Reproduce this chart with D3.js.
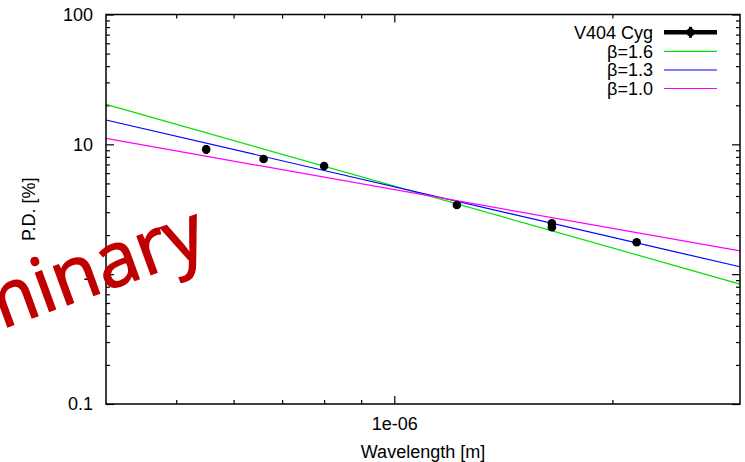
<!DOCTYPE html>
<html>
<head>
<meta charset="utf-8">
<script src="https://cdn.jsdelivr.net/npm/d3@7"></script>
<style>
  body { margin: 0; background: #fff; }
  svg { display: block; font-family: "Liberation Sans", Arial, sans-serif; }
  .axis text { font-size: 18px; fill: #000; font-family: "Liberation Sans", Arial, sans-serif; }
  .axis line { stroke: #000; stroke-width: 1.2px; }
  .axis path { display: none; }
</style>
</head>
<body>
<svg id="viz" width="745" height="462"></svg>
<script>
// V404 Cyg polarization degree per band (wavelength in m, P.D. in %)
var bands = ["V", "R", "I", "J", "H", "H", "Ks"];
var wavelengths = [0.55e-6, 0.66e-6, 0.80e-6, 1.22e-6, 1.65e-6, 1.65e-6, 2.16e-6];
var pd = [9.15, 7.70, 6.80, 3.41, 2.46, 2.30, 1.76];
var pdErr = [0.7, 0.3, 0.25, 0.12, 0.12, 0.12, 0.07];

// model lines, values read at the two plot edges
var modelNames = ["\u03b2=1.6", "\u03b2=1.3", "\u03b2=1.0"];
var modelColors = ["#00e000", "#0000ff", "#ff00ff"];
var modelEdgeX = [4e-7, 3e-6];
var modelEdgeY = [[20.3, 0.839], [15.4, 1.14], [11.1, 1.51]];

var yMajor = [0.1, 1, 10, 100];
var yMinor = [0.2, 0.3, 0.4, 0.5, 0.6, 0.7, 0.8, 0.9,
              2, 3, 4, 5, 6, 7, 8, 9,
              20, 30, 40, 50, 60, 70, 80, 90];
var xMajor = [1e-6];
var xMinor = [5e-7, 6e-7, 7e-7, 8e-7, 9e-7, 2e-6];

// plot box (window.top is reserved, so no "top" here)
var pLeft = 106, pRight = 740, pTop = 14.5, pBottom = 404;

var svg = d3.select("#viz");

var x = d3.scaleLog().domain([4e-7, 3e-6]).range([pLeft, pRight]);
var y = d3.scaleLog().domain([0.1, 100]).range([pBottom, pTop]);

// axes, ticks point inwards like gnuplot
svg.append("g").attr("class", "axis")
    .attr("transform", "translate(" + pLeft + ",0)")
    .call(d3.axisLeft(y).tickValues(yMajor).tickSize(-8).tickPadding(13)
        .tickFormat(d => d >= 1 ? d3.format("d")(d) : d + ""));
svg.append("g").attr("class", "axis")
    .attr("transform", "translate(" + pLeft + ",0)")
    .call(d3.axisLeft(y).tickValues(yMinor).tickSize(-4).tickFormat(""));
svg.append("g").attr("class", "axis")
    .attr("transform", "translate(" + pRight + ",0)")
    .call(d3.axisRight(y).tickValues(yMajor).tickSize(-8).tickFormat(""));
svg.append("g").attr("class", "axis")
    .attr("transform", "translate(" + pRight + ",0)")
    .call(d3.axisRight(y).tickValues(yMinor).tickSize(-4).tickFormat(""));

svg.append("g").attr("class", "axis")
    .attr("transform", "translate(0," + pBottom + ")")
    .call(d3.axisBottom(x).tickValues(xMajor).tickSize(-8).tickPadding(13)
        .tickFormat(d => "1e-06"));
svg.append("g").attr("class", "axis")
    .attr("transform", "translate(0," + pBottom + ")")
    .call(d3.axisBottom(x).tickValues(xMinor).tickSize(-4).tickFormat(""));
svg.append("g").attr("class", "axis")
    .attr("transform", "translate(0," + pTop + ")")
    .call(d3.axisTop(x).tickValues(xMajor).tickSize(-8).tickFormat(""));
svg.append("g").attr("class", "axis")
    .attr("transform", "translate(0," + pTop + ")")
    .call(d3.axisTop(x).tickValues(xMinor).tickSize(-4).tickFormat(""));

// model lines
var line = d3.line().x(d => x(d[0])).y(d => y(d[1]));
modelEdgeY.forEach(function(v, i) {
    svg.append("path")
        .attr("d", line(modelEdgeX.map((xx, j) => [xx, v[j]])))
        .attr("fill", "none")
        .attr("stroke", modelColors[i])
        .attr("stroke-width", 1.2);
});

// data with error bars
var pts = wavelengths.map((w, i) => ({w: w, p: pd[i], e: pdErr[i]}));
var dots = svg.append("g");
dots.selectAll("line.err").data(pts).enter().append("line")
    .attr("x1", d => x(d.w)).attr("x2", d => x(d.w))
    .attr("y1", d => y(d.p - d.e)).attr("y2", d => y(d.p + d.e))
    .attr("stroke", "#000").attr("stroke-width", 3.5);
dots.selectAll("circle").data(pts).enter().append("circle")
    .attr("cx", d => x(d.w)).attr("cy", d => y(d.p))
    .attr("r", 4.3).attr("fill", "#000");

// frame
svg.append("rect")
    .attr("x", pLeft).attr("y", pTop)
    .attr("width", pRight - pLeft).attr("height", pBottom - pTop)
    .attr("fill", "none").attr("stroke", "#000").attr("stroke-width", 1.5);

// legend
var legendNames = ["V404 Cyg"].concat(modelNames);
var legendY = [32.3, 51.3, 70, 88.5];
var lg = svg.append("g").attr("font-size", "18px");
legendNames.forEach(function(name, i) {
    lg.append("text").attr("x", 653).attr("y", legendY[i]).attr("dy", "0.36em")
        .attr("text-anchor", "end").text(name);
    lg.append("line")
        .attr("x1", 664).attr("x2", 717)
        .attr("y1", legendY[i]).attr("y2", legendY[i])
        .attr("stroke", i == 0 ? "#000" : modelColors[i - 1])
        .attr("stroke-width", i == 0 ? 4.5 : 1.2);
});
lg.append("circle").attr("cx", 690.5).attr("cy", legendY[0]).attr("r", 4).attr("fill", "#000");
lg.append("line").attr("x1", 690.5).attr("x2", 690.5)
    .attr("y1", legendY[0] - 5.5).attr("y2", legendY[0] + 5.5)
    .attr("stroke", "#000").attr("stroke-width", 3);

// axis titles
svg.append("text")
    .attr("x", (pLeft + pRight) / 2).attr("y", 458)
    .attr("text-anchor", "middle").attr("font-size", "18px")
    .text("Wavelength [m]");
svg.append("text")
    .attr("transform", "translate(35," + (pTop + pBottom) / 2 + ") rotate(-90)")
    .attr("text-anchor", "middle").attr("font-size", "18px")
    .text("P.D. [%]");

// watermark
svg.append("text")
    .attr("transform", "translate(210,253) rotate(-20)")
    .attr("text-anchor", "end")
    .attr("font-family", "'Open Sans', sans-serif")
    .attr("font-size", "76px")
    .attr("fill", "#c00000")
    .attr("stroke", "#c00000")
    .attr("stroke-width", 1.5)
    .text("Preliminary");
</script>
</body>
</html>
